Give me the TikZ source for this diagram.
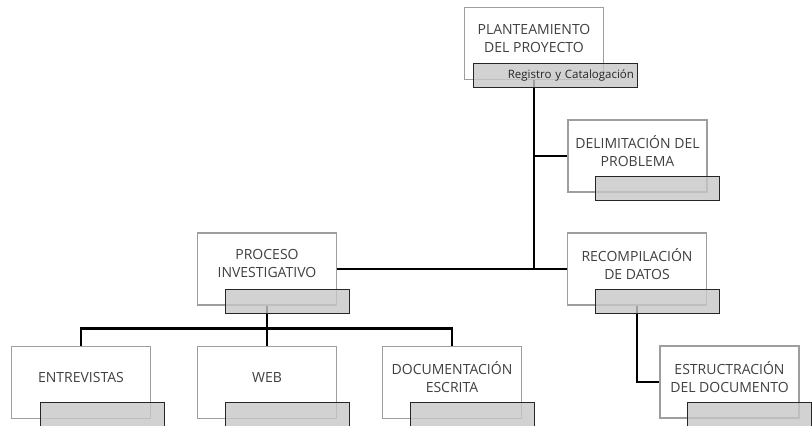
\documentclass[tikz,border=0pt]{standalone}
\usepackage{fontspec}
\setmainfont{Open Sans}
\usetikzlibrary{positioning,calc}

\begin{document}
\begin{tikzpicture}[x=1pt,y=-1pt,
  card/.style={rectangle,draw=black!38,line width=1.2pt,fill=white,
    minimum width=139pt,minimum height=72pt,inner sep=0pt,align=center,
    text depth=11pt,text=black!75,font=\fontsize{14}{18}\selectfont},
  tag/.style={rectangle,draw=black!85,line width=1pt,fill=black!22,
    fill opacity=0.8,text opacity=1,minimum width=124pt,minimum height=24pt,
    inner sep=0pt,text=black!85,font=\fontsize{11.5}{13}\selectfont},
  link/.style={draw=black,line width=2.6pt}]
          \path[fill=white,use as bounding box] (0,0) rectangle (812,426);
          % cards
          \node[card] at (534,43.5) (plan) {PLANTEAMIENTO\\DEL PROYECTO};
          \node[card] at (637.5,156) (delim) {DELIMITACI\'ON DEL\\PROBLEMA};
          \node[card] at (267,269) (proc) {PROCESO\\INVESTIGATIVO};
          \node[card] at (637,269) (recomp) {RECOMPILACI\'ON\\DE DATOS};
          \node[card] at (729.5,382) (estr) {ESTRUCTRACI\'ON\\DEL DOCUMENTO};
          \node[card] at (81,382.5) (entr) {ENTREVISTAS};
          \node[card] at (267,382.5) (web) {WEB};
          \node[card] at (452,382.5) (docu) {DOCUMENTACI\'ON\\ESCRITA};
          % connectors
          \coordinate (bus) at ($(proc.south)+(0,23)$);
          \draw[link] (plan.south) -- (plan.south |- proc.east);
          \draw[link] (plan.south |- delim.west) -- (delim.west);
          \draw[link] (proc.east) -- (recomp.west);
          \draw[link] (proc.south) -- (bus);
          \draw[link] (entr.north) |- (bus);
          \draw[link] (docu.north) |- (bus);
          \draw[link] (web.north) -- (bus);
          \draw[link] (recomp.south) |- (estr.west);
          % tags
          \node[tag,minimum width=164pt,text width=158pt,inner xsep=3pt,align=right] at (555,75.5) (plantag) {Registro y Catalogaci\'on};
          \node[tag] at (657.5,188) (delimtag) {};
          \node[tag] at (287,301) (proctag) {};
          \node[tag] at (657.5,301) (recomptag) {};
          \node[tag] at (749.5,414) (estrtag) {};
          \node[tag] at (102,414) (entrtag) {};
          \node[tag] at (287,414) (webtag) {};
          \node[tag] at (472.5,414) (docutag) {};
\end{tikzpicture}
\end{document}
